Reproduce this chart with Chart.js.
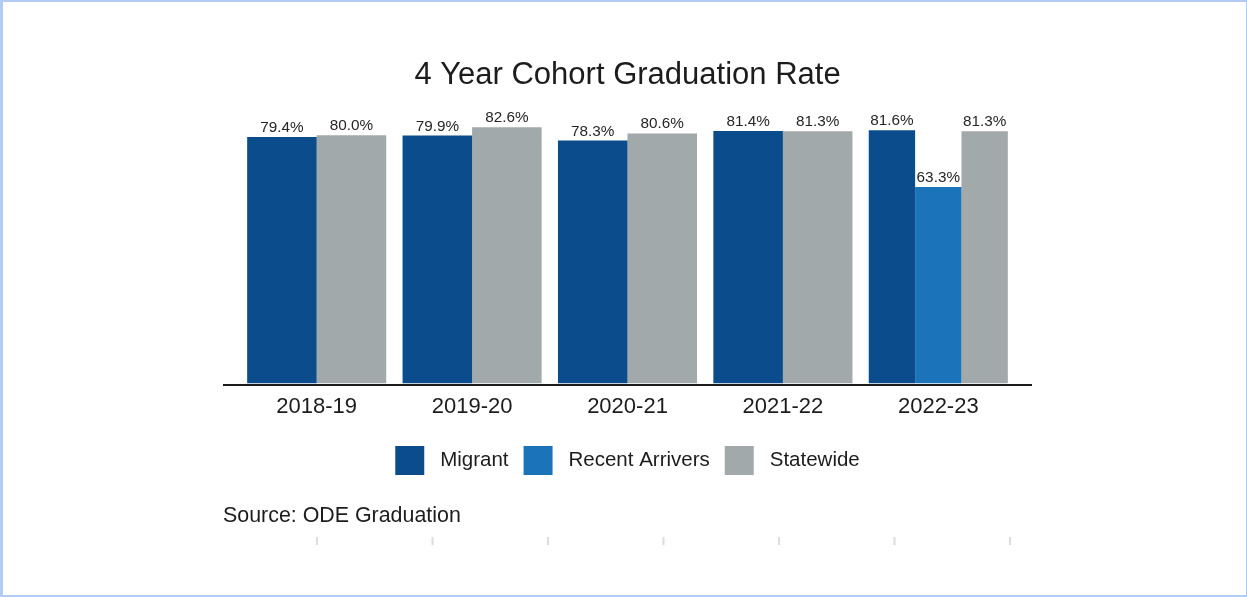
<!DOCTYPE html>
<html>
<head>
<meta charset="utf-8">
<script src="https://cdn.jsdelivr.net/npm/chart.js@4/dist/chart.umd.min.js"></script>
<style>
  html, body { margin: 0; padding: 0; background: #fff; }
  #wrap { position: relative; width: 1247px; height: 597px; }
  #frame {
    position: absolute; left: 0; top: 0; right: 0; bottom: 0;
    border-style: solid; border-color: #b3cbf3;
    border-width: 2px 1px 2px 3px;
    pointer-events: none;
  }
</style>
</head>
<body>
<div id="wrap">
  <canvas id="grafico" width="1247" height="597"></canvas>
  <div id="frame"></div>
</div>
<script>
const years = ['2018-19', '2019-20', '2020-21', '2021-22', '2022-23'];
const migrant = [79.4, 79.9, 78.3, 81.4, 81.6];
const recentArrivers = [null, null, null, null, 63.3];
const statewide = [80.0, 82.6, 80.6, 81.3, 81.3];

const fontFamily = "'Liberation Sans', Arial, sans-serif";
const textColor = '#1c1c1c';

// rótulos de valor acima das barras + linha do eixo + fonte
const extras = {
    id: 'extras',
    afterLayout(chart) {
        // desce um pouco a legenda
        chart.legend.top += 9;
        chart.legend.bottom += 9;
    },
    afterDatasetsDraw(chart) {
        const { ctx, chartArea } = chart;
        ctx.save();
        ctx.font = '15.3px ' + fontFamily;
        ctx.fillStyle = '#262626';
        ctx.textAlign = 'center';
        ctx.textBaseline = 'alphabetic';
        chart.data.datasets.forEach((ds, i) => {
            chart.getDatasetMeta(i).data.forEach((bar, j) => {
                const v = ds.data[j];
                if (v === null || v === undefined) return;
                ctx.fillText(v.toFixed(1) + '%', bar.x, bar.y - 5);
            });
        });

        // eixo x
        ctx.strokeStyle = '#1a1a1a';
        ctx.lineWidth = 2;
        ctx.beginPath();
        ctx.moveTo(chartArea.left - 16, chartArea.bottom + 1.5);
        ctx.lineTo(chartArea.right + 16, chartArea.bottom + 1.5);
        ctx.stroke();

        // fonte
        ctx.font = '21.4px ' + fontFamily;
        ctx.fillStyle = textColor;
        ctx.textAlign = 'left';
        ctx.fillText('Source: ODE Graduation', chartArea.left - 16, 522);

        // marquinhas cinza no rodapé
        ctx.fillStyle = '#dcdcdc';
        [317, 432.5, 548, 663.5, 779, 894.5, 1010].forEach(x => {
            ctx.fillRect(x - 1, 537, 2, 8);
        });
        ctx.restore();
    }
};

new Chart(document.getElementById('grafico'), {
    type: 'bar',
    data: {
        labels: years,
        datasets: [
            { label: 'Migrant', data: migrant, backgroundColor: '#0b4d8c' },
            { label: 'Recent Arrivers', data: recentArrivers, backgroundColor: '#1b74b9' },
            { label: 'Statewide', data: statewide, backgroundColor: '#a2a9aa' }
        ]
    },
    options: {
        responsive: false,
        animation: false,
        layout: {
            padding: { left: 239, right: 231, top: 0, bottom: 121 }
        },
        datasets: {
            bar: {
                skipNull: true,
                categoryPercentage: 0.895,
                barPercentage: 1.0,
                borderWidth: 0
            }
        },
        scales: {
            x: {
                grid: { display: false },
                border: { display: false },
                ticks: {
                    color: textColor,
                    padding: 2,
                    font: { family: fontFamily, size: 22 }
                }
            },
            y: {
                display: false,
                min: 0,
                max: 90
            }
        },
        plugins: {
            title: {
                display: true,
                text: '4 Year Cohort Graduation Rate',
                color: textColor,
                font: { family: fontFamily, size: 31, weight: 'normal' },
                padding: { top: 56.5, bottom: 10.5 }
            },
            legend: {
                position: 'bottom',
                labels: {
                    color: textColor,
                    boxWidth: 29,
                    boxHeight: 29,
                    padding: 15,
                    font: { family: fontFamily, size: 20.5 },
                    generateLabels(chart) {
                        return Chart.defaults.plugins.legend.labels.generateLabels(chart)
                            .map(item => ({ ...item, text: ' ' + item.text }));
                    }
                }
            },
            tooltip: { enabled: false }
        }
    },
    plugins: [extras]
});
</script>
</body>
</html>
